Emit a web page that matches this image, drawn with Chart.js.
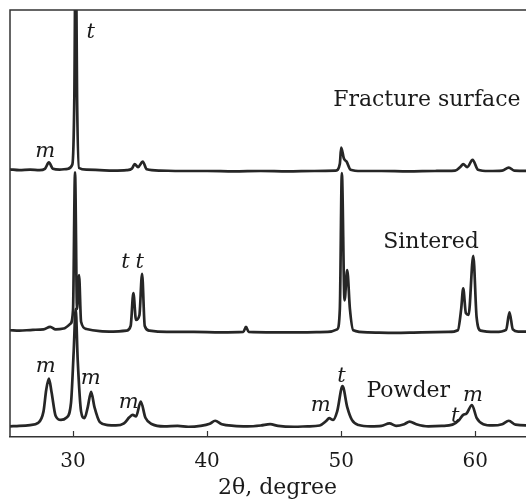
<!DOCTYPE html>
<html>
<head>
<meta charset="utf-8">
<script src="https://cdn.jsdelivr.net/npm/chart.js@4.4.1/dist/chart.umd.min.js"></script>
<style>
  html, body { margin: 0; padding: 0; background: #fff; overflow: hidden; }
  #wrap { width: 545px; height: 499px; }
</style>
</head>
<body>
<div id="wrap"><canvas id="xrd" width="545" height="499"></canvas></div>
<script>
// --- data: [2theta, intensity (a.u., traces already offset)] ---
const fractureScan = [
  [25.3,62.7],[26.0,62.5],[26.8,62.6],[27.5,62.5],[27.9,62.8],[28.2,64.3],[28.5,62.8],[29.0,62.6],
  [29.6,62.8],[29.95,63.8],[30.1,80],[30.2,120],[30.3,80],[30.45,63.0],[31.0,62.6],[32.0,62.5],
  [33.0,62.4],[34.0,62.5],[34.4,62.9],[34.6,63.9],[34.85,63.2],[35.2,64.5],[35.5,62.7],[36.5,62.4],
  [38,62.3],[40,62.3],[42,62.2],[44,62.3],[46,62.2],[48,62.3],[49.6,62.4],[49.9,64],[50.0,67.8],
  [50.2,65.2],[50.4,64.5],[50.7,62.6],[51.5,62.3],[53,62.3],[55,62.2],[57,62.3],[58.5,62.4],
  [58.9,63.3],[59.1,63.9],[59.4,63.2],[59.8,64.9],[60.2,62.6],[61,62.3],[62,62.4],[62.5,63.1],
  [62.9,62.4],[65.2,62.3]
];
const sinteredScan = [
  [25.3,25.0],[26,24.9],[27,25.1],[27.8,25.2],[28.3,25.8],[28.7,25.2],[29.3,25.4],[29.8,26.5],
  [30.0,29.7],[30.15,62],[30.3,30],[30.45,37.9],[30.6,27],[31,25.3],[32,24.8],[33,24.7],[34.0,24.9],
  [34.3,26],[34.5,33.7],[34.7,27.4],[34.95,28.5],[35.15,38.2],[35.35,26],[35.7,24.9],[37,24.6],
  [39,24.6],[41,24.5],[42.7,24.6],[42.9,25.8],[43.1,24.6],[45,24.5],[47,24.5],[49,24.6],[49.7,25.2],
  [49.9,30],[50.05,61.8],[50.25,32],[50.45,39.1],[50.65,30],[50.9,25],[52,24.5],[54,24.4],[56,24.5],
  [58,24.6],[58.7,25],[58.95,30],[59.1,34.8],[59.3,29],[59.5,28.6],[59.85,42.4],[60.1,28],
  [60.4,24.9],[61.5,24.6],[62.3,25.1],[62.55,29.2],[62.8,25.2],[63.2,24.7],[65.2,24.7]
];
const powderScan = [
  [25.3,2.5],[26,2.6],[26.8,2.8],[27.4,3.3],[27.8,6],[28.0,11],[28.2,13.7],[28.4,10.5],[28.7,5],
  [29.1,4.0],[29.5,4.5],[29.85,8],[30.05,20],[30.2,30],[30.35,18],[30.6,6],[30.85,4.4],[31.1,7],
  [31.35,10.6],[31.6,7],[32.0,3.5],[32.6,2.8],[33.2,2.7],[33.8,3.2],[34.2,4.6],[34.45,5.2],[34.7,4.8],
  [35.05,8.3],[35.4,4.5],[35.9,3.0],[36.8,2.5],[37.8,2.6],[38.6,2.4],[39.5,2.6],[40.2,3.1],[40.6,3.8],
  [41.1,3.0],[42,2.6],[43,2.5],[44,2.7],[44.7,3.0],[45.3,2.6],[46.5,2.4],[47.5,2.5],[48.4,2.7],
  [48.9,3.8],[49.1,4.4],[49.4,4.0],[49.7,6],[50.1,11.9],[50.45,7],[50.8,4],[51.3,2.8],[52.2,2.5],
  [53,2.6],[53.6,3.2],[54.1,2.6],[54.7,3.0],[55.1,3.6],[55.6,3.0],[56.5,2.5],[57.5,2.6],[58.3,2.9],
  [58.8,4],[59.1,5.2],[59.35,5.5],[59.75,7.5],[60.1,4.5],[60.6,3.0],[61.3,2.7],[62.0,3.0],[62.5,3.8],
  [63.0,2.9],[65.2,2.6]
];
const traceNames = ["Fracture surface", "Sintered", "Powder"];
const tickValues = [30, 40, 50, 60];

// text placed on the plot (data coordinates, baseline)
const notes = [
  { text: "t", x: 31.32, y: 93.4, italic: true },
  { text: "m", x: 27.92, y: 65.6, italic: true },
  { text: traceNames[0], x: 49.4, y: 77.5, align: "left" },
  { text: traceNames[1], x: 53.13, y: 44.2, align: "left" },
  { text: "t", x: 33.92, y: 39.5, italic: true },
  { text: "t", x: 34.98, y: 39.5, italic: true },
  { text: "m", x: 27.96, y: 15.3, italic: true },
  { text: "m", x: 31.32, y: 12.3, italic: true },
  { text: "m", x: 34.15, y: 6.7, italic: true },
  { text: "m", x: 48.48, y: 6.1, italic: true },
  { text: "t", x: 50.03, y: 12.8, italic: true },
  { text: traceNames[2], x: 51.88, y: 9.4, align: "left" },
  { text: "t", x: 58.5, y: 3.6, italic: true },
  { text: "m", x: 59.83, y: 8.5, italic: true }
];

const ink = "#262626";
const serif = "'DejaVu Serif', 'Liberation Serif', serif";

const framePlugin = {
  id: "frame",
  afterDraw(chart) {
    const { ctx, chartArea: a, scales } = chart;
    ctx.save();
    ctx.strokeStyle = "#333";
    ctx.lineWidth = 1.5;
    ctx.beginPath();
    ctx.moveTo(a.left, a.bottom);
    ctx.lineTo(a.left, a.top);
    ctx.lineTo(a.right, a.top);
    ctx.stroke();
    // inward tick marks
    ctx.lineWidth = 1.2;
    tickValues.forEach(v => {
      const px = Math.round(scales.x.getPixelForValue(v)) + 0.5;
      ctx.beginPath();
      ctx.moveTo(px, a.bottom);
      ctx.lineTo(px, a.bottom - 6);
      ctx.stroke();
    });
    // annotations
    ctx.fillStyle = "#1a1a1a";
    notes.forEach(n => {
      ctx.font = (n.italic ? "italic 21px " : "22px ") + serif;
      ctx.textAlign = n.align || "center";
      ctx.textBaseline = "alphabetic";
      ctx.fillText(n.text, scales.x.getPixelForValue(n.x), scales.y.getPixelForValue(n.y));
    });
    ctx.restore();
  }
};

function toPoints(arr) { return arr.map(p => ({ x: p[0], y: p[1] })); }

function createChart() {
  const el = document.getElementById("xrd");
  const line = { borderColor: ink, borderWidth: 2.7, pointRadius: 0, cubicInterpolationMode: "monotone", fill: false };
  new Chart(el, {
    type: "line",
    data: {
      datasets: [
        Object.assign({ label: traceNames[0], data: toPoints(fractureScan) }, line),
        Object.assign({ label: traceNames[1], data: toPoints(sinteredScan) }, line),
        Object.assign({ label: traceNames[2], data: toPoints(powderScan) }, line)
      ]
    },
    options: {
      responsive: false,
      animation: false,
      layout: { padding: { left: 10, top: 10, right: 0, bottom: 0 } },
      plugins: { legend: { display: false }, tooltip: { enabled: false } },
      scales: {
        x: {
          type: "linear",
          min: 25.3,
          max: 65.2,
          afterBuildTicks: s => { s.ticks = tickValues.map(v => ({ value: v })); },
          afterFit: s => { s.height = 62; },
          grid: { display: false, drawTicks: false, tickLength: 0 },
          border: { display: true, color: "#333", width: 1.5 },
          ticks: { color: "#1a1a1a", font: { family: serif, size: 20, lineHeight: 1.2 }, padding: 13, maxRotation: 0 },
          title: { display: true, text: "2θ, degree", color: "#1a1a1a", font: { family: serif, size: 22, lineHeight: 1.0 }, padding: { top: 0, bottom: 0 } }
        },
        y: { display: false, min: 0, max: 100 }
      }
    },
    plugins: [framePlugin]
  });
}

document.addEventListener("DOMContentLoaded", createChart);
</script>
</body>
</html>
